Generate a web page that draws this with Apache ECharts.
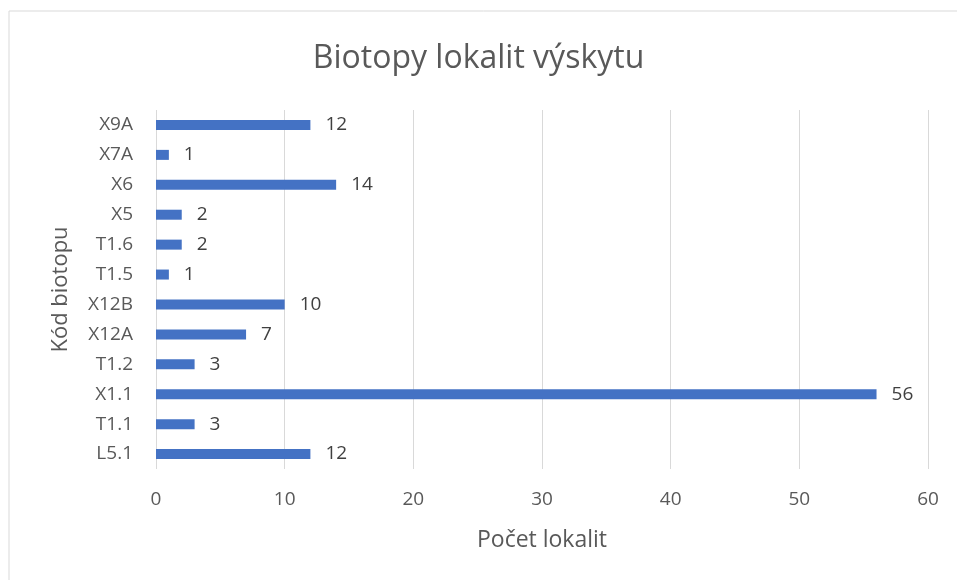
<!DOCTYPE html>
<html>
<head>
<meta charset="utf-8">
<script src="https://cdn.jsdelivr.net/npm/echarts@6/dist/echarts.min.js"></script>
<style>
  html, body { margin: 0; padding: 0; background: #fff; }
  #chart { width: 957px; height: 580px; }
</style>
</head>
<body>
<div id="chart"></div>
<script>
// categories bottom -> top
var biotopes = ['L5.1', 'T1.1', 'X1.1', 'T1.2', 'X12A', 'X12B', 'T1.5', 'T1.6', 'X5', 'X6', 'X7A', 'X9A'];
var counts = [12, 3, 56, 3, 7, 10, 1, 2, 2, 14, 1, 12];
var xTicks = [0, 10, 20, 30, 40, 50, 60];

var font = '"Open Sans", "Noto Sans", sans-serif';
var chart = echarts.init(document.getElementById('chart'));

chart.setOption({
  backgroundColor: '#fff',
  animation: false,
  textStyle: { fontFamily: font },
  graphic: [{
    type: 'rect',
    shape: { x: 9, y: 11, width: 1000, height: 1000 },
    style: { fill: 'none', stroke: '#d9d9d9', lineWidth: 1 },
    silent: true
  }],
  title: {
    text: 'Biotopy lokalit výskytu',
    left: 'center',
    top: 38,
    textStyle: { fontFamily: font, fontSize: 32, fontWeight: 'normal', color: '#595959' }
  },
  grid: { left: 156, right: 29, top: 110, bottom: 111 },
  xAxis: {
    type: 'value',
    min: xTicks[0],
    max: xTicks[xTicks.length - 1],
    interval: 10,
    name: 'Počet lokalit',
    nameLocation: 'middle',
    nameGap: 60,
    nameTextStyle: { fontFamily: font, fontSize: 23, color: '#595959' },
    axisLine: { show: false },
    axisTick: { show: false },
    axisLabel: { fontFamily: font, fontSize: 19, color: '#595959', margin: 21 },
    splitLine: { lineStyle: { color: '#d9d9d9', width: 1 } }
  },
  yAxis: {
    type: 'category',
    data: biotopes,
    name: 'Kód biotopu',
    nameLocation: 'middle',
    nameGap: 84,
    nameRotate: 90,
    nameTextStyle: { fontFamily: font, fontSize: 22, color: '#595959' },
    axisLine: { show: false },
    axisTick: { show: false },
    axisLabel: { fontFamily: font, fontSize: 19, color: '#595959', margin: 23 }
  },
  series: [{
    type: 'bar',
    data: counts,
    barWidth: 10,
    itemStyle: { color: '#4472C4' },
    label: {
      show: true,
      position: 'right',
      distance: 15,
      fontFamily: font,
      fontSize: 19,
      color: '#404040'
    }
  }]
});
</script>
</body>
</html>
